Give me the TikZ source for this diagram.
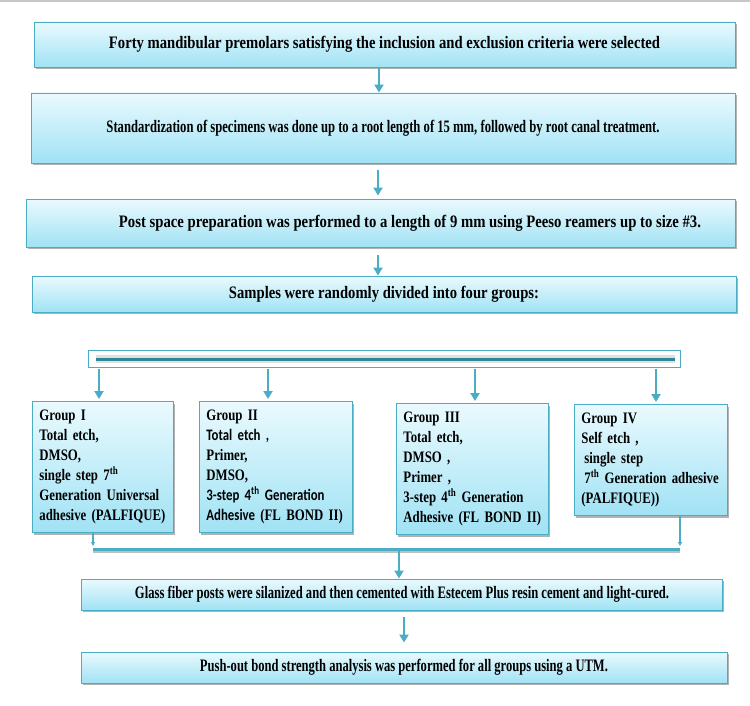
\documentclass[tikz,border=0pt]{standalone}
\usepackage{fontspec}
\setmainfont{Liberation Serif}
\newfontfamily\grpfont{Liberation Serif}[FakeStretch=0.8]
\newfontfamily\grpsans{Carlito}[FakeStretch=0.8]
\usetikzlibrary{arrows.meta,shadows,calc}
\definecolor{bord}{RGB}{75,172,198}
\definecolor{ftop}{RGB}{234,250,254}
\definecolor{fbot}{RGB}{160,226,244}
\definecolor{arrc}{RGB}{75,172,198}
\definecolor{dteal}{RGB}{49,133,155}
\newcommand\fw[2]{\resizebox{#1pt}{\height}{#2}}
\begin{document}
\begin{tikzpicture}[x=1pt,y=-1pt,
  box/.style={draw=bord, line width=0.9pt, top color=ftop, bottom color=fbot,
    drop shadow={shadow xshift=1.5pt, shadow yshift=-2.2pt, fill=black, opacity=0.3},
    inner sep=0pt, font=\fontsize{17.5}{19}\selectfont\bfseries},
  grp/.style={box, anchor=north west, align=left, inner xsep=7pt, inner ysep=8.5pt,
    font=\fontsize{16}{20}\selectfont\bfseries\grpfont},
  flow/.style={draw=arrc, line width=2.6pt, -{Triangle[width=9pt,length=8pt]}},
  thinarr/.style={draw=arrc, line width=1.3pt, -{Triangle[width=4pt,length=4pt]}}]
\useasboundingbox (0,0) rectangle (750,706);
\fill[black!22] (0,0) rectangle (750,2.5);

\node[box, minimum width=701pt, minimum height=45pt] (b1) at (384.5,44.5)
  {\fw{551}{Forty mandibular premolars satisfying the inclusion and exclusion criteria were selected}};
\node[box, minimum width=704pt, minimum height=70pt] (b2) at (383,128)
  {\fw{553}{Standardization of specimens was done up to a root length of 15 mm, followed by root canal treatment.}};
\node[box, minimum width=709pt, minimum height=48pt] (b3) at (380.5,223)
  {\hspace*{59pt}\fw{582}{Post space preparation was performed to a length of 9 mm using Peeso reamers up to size \#3.}};
\node[box, minimum width=704pt, minimum height=36pt] (b4) at (384,294)
  {\fw{310}{Samples were randomly divided into four groups:}};

\node[draw=bord, line width=1pt, fill=white, minimum width=592pt, minimum height=17pt, inner sep=0pt] (bar) at (384,358.5) {};
\draw[black!12, line width=8pt] ([xshift=8pt]bar.west) -- ([xshift=-6pt]bar.east);
\draw[dteal, line width=3pt] ([xshift=8pt,yshift=-1pt]bar.west) -- ([xshift=-6pt,yshift=-1pt]bar.east);

\node[grp, text width=127pt] (g1) at (32,401)
  {Group I\\ Total etch,\\ DMSO,\\ single step 7\textsuperscript{th}\\ \mbox{Generation Universal}\\ \mbox{adhesive (PALFIQUE)}};
\node[grp, text width=139pt] (g2) at (199,401)
  {Group II\\ {\grpsans Total etch ,}\\ Primer,\\ DMSO,\\ \mbox{\grpsans 3-step 4\textsuperscript{th} Generation}\\ \mbox{{\grpsans Adhesive} (FL BOND II)}};
\node[grp, text width=138pt] (g3) at (396,403)
  {Group III\\ Total etch,\\ DMSO ,\\ Primer ,\\ \mbox{3-step 4\textsuperscript{th} Generation}\\ \mbox{Adhesive (FL BOND II)}};
\node[grp, text width=139pt] (g4) at (574,404)
  {Group IV\\ Self etch ,\\ \hspace*{3pt}single step\\ \mbox{\hspace*{3pt}7\textsuperscript{th} Generation adhesive}\\ (PALFIQUE))};

\node[box, minimum width=641pt, minimum height=31pt] (b5) at (402,594.5)
  {\fw{534}{Glass fiber posts were silanized and then cemented with Estecem Plus resin cement and light-cured.}};
\node[box, minimum width=646pt, minimum height=31pt] (b6) at (404,667.5)
  {\fw{408}{Push-out bond strength analysis was performed for all groups using a UTM.}};

% main flow arrows
\coordinate (ax1) at (379,0);
\coordinate (ax2) at (378,0);
\coordinate (ax3) at (378,0);
\draw[flow, shorten <=1pt] (b1.south -| ax1) -- (b2.north -| ax1);
\draw[flow, shorten <=7pt, shorten >=3pt] (b2.south -| ax2) -- (b3.north -| ax2);
\draw[flow, shorten <=8pt] (b3.south -| ax3) -- (b4.north -| ax3);

% arrows from bar to groups
\coordinate (c1) at (99,0);
\coordinate (c2) at (268,0);
\coordinate (c3) at (475,0);
\coordinate (c4) at (656,0);
\draw[flow, shorten <=1pt, shorten >=2pt] (bar.south -| c1) -- (g1.north -| c1);
\draw[flow, shorten <=1pt, shorten >=2pt] (bar.south -| c2) -- (g2.north -| c2);
\draw[flow, shorten <=1pt, shorten >=2pt] (bar.south -| c3) -- (g3.north -| c3);
\draw[flow, shorten <=1pt, shorten >=2pt] (bar.south -| c4) -- (g4.north -| c4);

% collecting bar
\coordinate (j1) at (93,549);
\coordinate (j4) at (680,549);
\coordinate (j5) at (399,549);
\draw[black!25, line width=3pt] ([yshift=-2pt]j1) -- ([yshift=-2pt]j4);
\draw[arrc, line width=3pt] (j1) -- (j4);
\draw[thinarr] (g1.south -| j1) -- ([yshift=3pt]j1);
\draw[thinarr] (g4.south -| j4) -- ([yshift=3pt]j4);
\draw[flow] (j5) -- (b5.north -| j5);

\coordinate (ax6) at (404,0);
\draw[flow, shorten <=7pt, shorten >=9pt] (b5.south -| ax6) -- (b6.north -| ax6);
\end{tikzpicture}
\end{document}
